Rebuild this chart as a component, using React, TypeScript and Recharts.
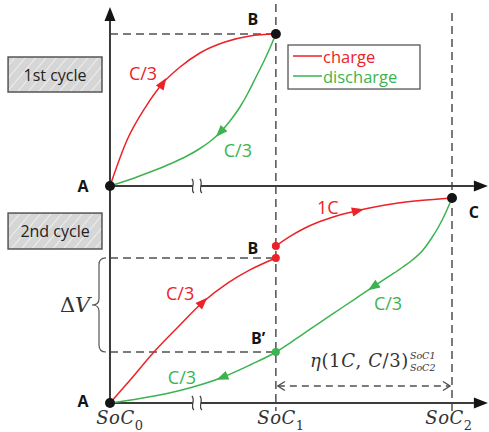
import React from "react"
import { ComposedChart, Line, XAxis, YAxis, ReferenceLine, ReferenceDot, ReferenceArea } from "recharts"

const RED = "#ec2227"
const GREEN = "#3cb34f"
const INK = "#141414"
const AXIS = "#3c3c3c"
const DASH = "#505050"
const SANS = "'Open Sans', 'Noto Sans', sans-serif"
const SERIF = "'DejaVu Serif', serif"

// state of charge on the shared axis (SoC0 .. SoC2 in %)
const SOC0 = 0
const SOC1 = 48.5
const SOC2 = 100
const socTicks = [SOC0, SOC1, SOC2]
const socNames = ["0", "1", "2"]

// 1st cycle, voltage as % of the B level
const cycle1ChargeSoc = [0, 5, 10.2, 15.5, 20.5, 26.3, 33.6, 40.9, 48.5]
const cycle1ChargeV = [0, 30.3, 51.3, 67.8, 78.3, 87.5, 94.7, 98.7, 100]
const cycle1DischargeSoc = [0, 5.85, 11.7, 17.54, 22.51, 26.32, 29.24, 32.16, 35.09, 38.01, 40.35, 42.69, 45.03, 46.78, 48.5]
const cycle1DischargeV = [0, 4.28, 9.21, 14.47, 19.74, 24.67, 29.28, 35.2, 42.76, 51.97, 61.18, 71.71, 82.24, 90.79, 100]

// 2nd cycle, voltage as % of the C level
const cycle2ChargeSoc = [0, 5.9, 12.6, 19.9, 27.2, 34.5, 40.9, 48.5]
const cycle2ChargeV = [0, 11.2, 24.3, 36.9, 49.0, 58.3, 64.6, 70.4]
const cycle2FastSoc = [48.54, 52.63, 56.73, 60.82, 65.5, 72.51, 76.61, 83.33, 90.64, 100]
const cycle2FastV = [76.21, 80.83, 84.71, 87.72, 90.39, 93.4, 94.85, 96.8, 98.25, 99.51]
const cycle2DischargeSoc = [0, 8.77, 16.67, 24.27, 32.75, 40.94, 48.54, 53.22, 58.19, 63.16, 68.13, 72.51, 76.9, 81.29, 85.67, 88.6, 91.52, 93.86, 96.2, 98.25, 100]
const cycle2DischargeV = [0, 2.18, 4.61, 7.77, 12.38, 18.45, 24.76, 29.85, 35.44, 41.02, 46.6, 51.46, 56.31, 61.17, 66.02, 69.66, 74.27, 79.61, 85.92, 92.72, 99.51]

const V_B1 = 100
const V_B = 70.4
const V_B_FAST = 76.21
const V_B_PRIME = 24.76
const V_C = 99.51

const zip = (xs: number[], ys: number[]) => xs.map((x, i) => ({ x, v: ys[i] }))

const curves = [
  { id: "c1-charge", axis: "top", color: RED, data: zip(cycle1ChargeSoc, cycle1ChargeV) },
  { id: "c1-discharge", axis: "top", color: GREEN, data: zip(cycle1DischargeSoc, cycle1DischargeV) },
  { id: "c2-charge", axis: "bot", color: RED, data: zip(cycle2ChargeSoc, cycle2ChargeV) },
  { id: "c2-fast", axis: "bot", color: RED, data: zip(cycle2FastSoc, cycle2FastV) },
  { id: "c2-discharge", axis: "bot", color: GREEN, data: zip(cycle2DischargeSoc, cycle2DischargeV) },
]

// direction arrows sitting on curve points
const arrowMarks = [
  { curve: 0, i: 3, angle: -57 },
  { curve: 1, i: 7, angle: 133 },
  { curve: 2, i: 4, angle: -45 },
  { curve: 3, i: 5, angle: -14 },
  { curve: 4, i: 12, angle: 146 },
  { curve: 4, i: 4, angle: 157 },
]

const Arrow = ({ cx, cy, angle, color }: any) => (
  <polygon
    points="6,0 -6,-4.6 -6,4.6"
    transform={`translate(${cx},${cy}) rotate(${angle})`}
    fill={color}
  />
)

const AxisLine = ({ x1, y1, x2, y2 }: any) => {
  const a = Math.atan2(y2 - y1, x2 - x1)
  const L = 14
  const W = 5.5
  const bx = x2 - L * Math.cos(a)
  const by = y2 - L * Math.sin(a)
  const px = -Math.sin(a) * W
  const py = Math.cos(a) * W
  return (
    <g>
      <line x1={x1} y1={y1} x2={bx} y2={by} stroke={AXIS} strokeWidth={2} />
      <polygon points={`${x2},${y2} ${bx + px},${by + py} ${bx - px},${by - py}`} fill={INK} />
    </g>
  )
}

const SpanArrow = ({ x1, y1, x2 }: any) => (
  <g stroke={DASH} strokeWidth={1.4} fill="none">
    <line x1={x1 + 2} y1={y1} x2={x2 - 2} y2={y1} strokeDasharray="7 5" />
    <polyline points={`${x1 + 9},${y1 - 4.5} ${x1 + 2},${y1} ${x1 + 9},${y1 + 4.5}`} />
    <polyline points={`${x2 - 9},${y1 - 4.5} ${x2 - 2},${y1} ${x2 - 9},${y1 + 4.5}`} />
  </g>
)

const AxisBreak = ({ cx, cy }: any) => (
  <g>
    <rect x={cx - 4} y={cy - 3} width={8} height={6} fill="#fff" />
    {[-4, 4].map((d) => (
      <path
        key={d}
        d={`M${cx + d - 1},${cy - 7} C${cx + d + 3},${cy - 3} ${cx + d - 3},${cy + 3} ${cx + d + 1},${cy + 7}`}
        stroke={AXIS}
        strokeWidth={1.2}
        fill="none"
      />
    ))}
  </g>
)

const Tag = ({ cx, cy, text, color = INK, size = 18, bold = false }: any) => (
  <text
    x={cx}
    y={cy}
    textAnchor="middle"
    dominantBaseline="central"
    fontFamily={SANS}
    fontSize={size}
    fontWeight={bold ? 700 : 400}
    fill={color}
  >
    {text}
  </text>
)

const SocTag = ({ cx, cy, sub }: any) => (
  <text x={cx} y={cy} textAnchor="middle" fontFamily={SERIF} fontStyle="italic" fontSize={18} fill="#333" letterSpacing={0.5}>
    SoC
    <tspan fontSize={13} dy={6} fontStyle="normal">
      {sub}
    </tspan>
  </text>
)

const EtaTag = ({ cx, cy }: any) => (
  <g fontFamily={SERIF} fill="#333">
    <text x={cx} y={cy} textAnchor="end" fontSize={18} letterSpacing={0.6}>
      <tspan fontStyle="italic">η</tspan>(1<tspan fontStyle="italic">C</tspan>, <tspan fontStyle="italic">C</tspan>/3)
    </text>
    <text x={cx + 1} y={cy - 8} fontSize={9.5} fontStyle="italic">SoC1</text>
    <text x={cx + 1} y={cy + 4} fontSize={9.5} fontStyle="italic">SoC2</text>
  </g>
)

const DeltaV = ({ cx, cy }: any) => (
  <text x={cx} y={cy} textAnchor="middle" dominantBaseline="central" fontFamily={SERIF} fontSize={21} fill="#333">
    Δ<tspan fontStyle="italic">V</tspan>
  </text>
)

const Brace = ({ x, y, width, height }: any) => {
  const r = x + width
  const m = x + width * 0.5
  const c = y + height / 2
  const b = y + height
  return (
    <path
      d={`M${r},${y} Q${m},${y} ${m},${y + 7} L${m},${c - 6} Q${m},${c} ${x},${c} Q${m},${c} ${m},${c + 6} L${m},${b - 7} Q${m},${b} ${r},${b}`}
      stroke="#555"
      strokeWidth={1.2}
      fill="none"
    />
  )
}

const CycleBox = ({ x, y, width, height, text }: any) => (
  <g>
    <defs>
      <pattern id="hatch" width="8" height="8" patternUnits="userSpaceOnUse" patternTransform="rotate(40)">
        <rect width="8" height="8" fill="#d6d6d6" />
        <line x1="0" y1="0" x2="0" y2="8" stroke="#eeeeee" strokeWidth="2" />
      </pattern>
    </defs>
    <rect x={x} y={y} width={width} height={height} fill="url(#hatch)" stroke="#555" strokeWidth={1.5} />
    <text
      x={x + width / 2}
      y={y + height / 2}
      textAnchor="middle"
      dominantBaseline="central"
      fontFamily={SANS}
      fontSize={16}
      fill="#222"
    >
      {text}
    </text>
  </g>
)

const legendItems = [
  { name: "charge", color: RED },
  { name: "discharge", color: GREEN },
]

const LegendBox = ({ x, y, width, height }: any) => (
  <g>
    <rect x={x} y={y} width={width} height={height} fill="#fff" stroke="#555" strokeWidth={1.3} />
    {legendItems.map((it, k) => {
      const ly = y + 11 + k * 20
      return (
        <g key={it.name}>
          <line x1={x + 5} y1={ly} x2={x + 34} y2={ly} stroke={it.color} strokeWidth={1.5} />
          <text x={x + 35} y={ly} dominantBaseline="central" fontFamily={SANS} fontSize={16.5} fill={it.color}>
            {it.name}
          </text>
        </g>
      )
    })}
  </g>
)

// where each SoC label sits, relative to its tick
const socLabelShift = [2.9, 1.5, -0.9]

export default function App() {
  return (
    <div style={{ position: "absolute", left: 0, top: 0, width: 489, height: 432, background: "#fff" }}>
      <ComposedChart width={489} height={432} margin={{ top: 0, right: 0, bottom: 0, left: 0 }}>
        <XAxis hide type="number" dataKey="x" domain={[-32.16, 110.82]} allowDataOverflow />
        <YAxis hide yAxisId="top" type="number" domain={[-161.84, 122.37]} allowDataOverflow />
        <YAxis hide yAxisId="bot" type="number" domain={[-14.08, 195.63]} allowDataOverflow />

        <ReferenceArea yAxisId="top" x1={-29.8} x2={-2.34} y1={61.84} y2={84.87} shape={(p: any) => <CycleBox {...p} text="1st cycle" />} />
        <ReferenceArea yAxisId="bot" x1={-29.8} x2={-2.34} y1={74.76} y2={92.2} shape={(p: any) => <CycleBox {...p} text="2nd cycle" />} />
        <ReferenceArea yAxisId="top" x1={52.05} x2={90.64} y1={63.8} y2={92.76} shape={(p: any) => <LegendBox {...p} />} />
        <ReferenceArea yAxisId="bot" x1={-5.26} x2={-1.17} y1={V_B_PRIME} y2={V_B} shape={(p: any) => <Brace {...p} />} />

        {/* dashed guides */}
        <ReferenceLine yAxisId="bot" segment={[{ x: SOC1, y: 193.7 }, { x: SOC1, y: -3.9 }]} stroke={DASH} strokeWidth={1.5} strokeDasharray="8 5" />
        <ReferenceLine yAxisId="bot" segment={[{ x: SOC2, y: 189.3 }, { x: SOC2, y: -3.9 }]} stroke={DASH} strokeWidth={1.5} strokeDasharray="8 5" />
        <ReferenceLine yAxisId="top" segment={[{ x: SOC0, y: V_B1 }, { x: SOC1, y: V_B1 }]} stroke={DASH} strokeWidth={1.5} strokeDasharray="8 5" />
        <ReferenceLine yAxisId="bot" segment={[{ x: SOC0, y: V_B }, { x: SOC1, y: V_B }]} stroke={DASH} strokeWidth={1.5} strokeDasharray="8 5" />
        <ReferenceLine yAxisId="bot" segment={[{ x: SOC0, y: V_B_PRIME }, { x: SOC1, y: V_B_PRIME }]} stroke={DASH} strokeWidth={1.5} strokeDasharray="8 5" />
        <ReferenceLine yAxisId="bot" segment={[{ x: SOC1, y: 8.25 }, { x: SOC2, y: 8.25 }]} shape={(p: any) => <SpanArrow {...p} />} />

        {/* axes with arrow heads */}
        <ReferenceLine yAxisId="bot" segment={[{ x: 0, y: 0 }, { x: 0, y: 192.2 }]} shape={(p: any) => <AxisLine {...p} />} />
        <ReferenceLine yAxisId="top" segment={[{ x: 0, y: 0 }, { x: 110.5, y: 0 }]} shape={(p: any) => <AxisLine {...p} />} />
        <ReferenceLine yAxisId="bot" segment={[{ x: 0, y: 0 }, { x: 110.5, y: 0 }]} shape={(p: any) => <AxisLine {...p} />} />
        <ReferenceDot yAxisId="top" x={25.4} y={0} shape={(p: any) => <AxisBreak {...p} />} />
        <ReferenceDot yAxisId="bot" x={25.4} y={0} shape={(p: any) => <AxisBreak {...p} />} />

        {curves.map((c) => (
          <Line
            key={c.id}
            yAxisId={c.axis}
            data={c.data}
            dataKey="v"
            type="monotone"
            stroke={c.color}
            strokeWidth={1.5}
            dot={false}
            activeDot={false}
            isAnimationActive={false}
          />
        ))}

        {arrowMarks.map((m, k) => {
          const c = curves[m.curve]
          const pt = c.data[m.i]
          return (
            <ReferenceDot
              key={`arrow-${k}`}
              yAxisId={c.axis}
              x={pt.x}
              y={pt.v}
              shape={(p: any) => <Arrow {...p} angle={m.angle} color={c.color} />}
            />
          )
        })}

        {/* state points */}
        <ReferenceDot yAxisId="top" x={SOC0} y={0} r={5} fill={INK} stroke="none" />
        <ReferenceDot yAxisId="top" x={SOC1} y={V_B1} r={5} fill={INK} stroke="none" />
        <ReferenceDot yAxisId="bot" x={SOC0} y={0} r={5} fill={INK} stroke="none" />
        <ReferenceDot yAxisId="bot" x={SOC2} y={V_C} r={5} fill={INK} stroke="none" />
        <ReferenceDot yAxisId="bot" x={SOC1} y={V_B_FAST} r={4} fill={RED} stroke="none" />
        <ReferenceDot yAxisId="bot" x={SOC1} y={V_B} r={4} fill={RED} stroke="none" />
        <ReferenceDot yAxisId="bot" x={SOC1} y={V_B_PRIME} r={4} fill={GREEN} stroke="none" />

        {/* point names */}
        <ReferenceDot yAxisId="top" x={-7.9} y={0} shape={(p: any) => <Tag {...p} text="A" bold size={16} />} />
        <ReferenceDot yAxisId="top" x={41.8} y={109.9} shape={(p: any) => <Tag {...p} text="B" bold size={16} />} />
        <ReferenceDot yAxisId="bot" x={-7.9} y={0.97} shape={(p: any) => <Tag {...p} text="A" bold size={16} />} />
        <ReferenceDot yAxisId="bot" x={41.8} y={75.2} shape={(p: any) => <Tag {...p} text="B" bold size={16} />} />
        <ReferenceDot yAxisId="bot" x={43.3} y={31.55} shape={(p: any) => <Tag {...p} text="B’" bold size={16} />} />
        <ReferenceDot yAxisId="bot" x={106.4} y={92.7} shape={(p: any) => <Tag {...p} text="C" bold size={16} />} />

        {/* rate labels */}
        <ReferenceDot yAxisId="top" x={9.65} y={74.3} shape={(p: any) => <Tag {...p} text="C/3" color={RED} />} />
        <ReferenceDot yAxisId="top" x={37.4} y={23.7} shape={(p: any) => <Tag {...p} text="C/3" color={GREEN} />} />
        <ReferenceDot yAxisId="bot" x={20.5} y={53.4} shape={(p: any) => <Tag {...p} text="C/3" color={RED} />} />
        <ReferenceDot yAxisId="bot" x={63.7} y={95.1} shape={(p: any) => <Tag {...p} text="1C" color={RED} />} />
        <ReferenceDot yAxisId="bot" x={81.3} y={48.5} shape={(p: any) => <Tag {...p} text="C/3" color={GREEN} />} />
        <ReferenceDot yAxisId="bot" x={21.05} y={12.6} shape={(p: any) => <Tag {...p} text="C/3" color={GREEN} />} />

        <ReferenceDot yAxisId="bot" x={-10.2} y={47.6} shape={(p: any) => <DeltaV {...p} />} />
        <ReferenceDot yAxisId="bot" x={87.4} y={17.5} shape={(p: any) => <EtaTag {...p} />} />

        {socTicks.map((s, k) => (
          <ReferenceDot
            key={`soc-${k}`}
            yAxisId="bot"
            x={s + socLabelShift[k]}
            y={-10.2}
            shape={(p: any) => <SocTag {...p} sub={socNames[k]} />}
          />
        ))}
      </ComposedChart>
    </div>
  )
}
